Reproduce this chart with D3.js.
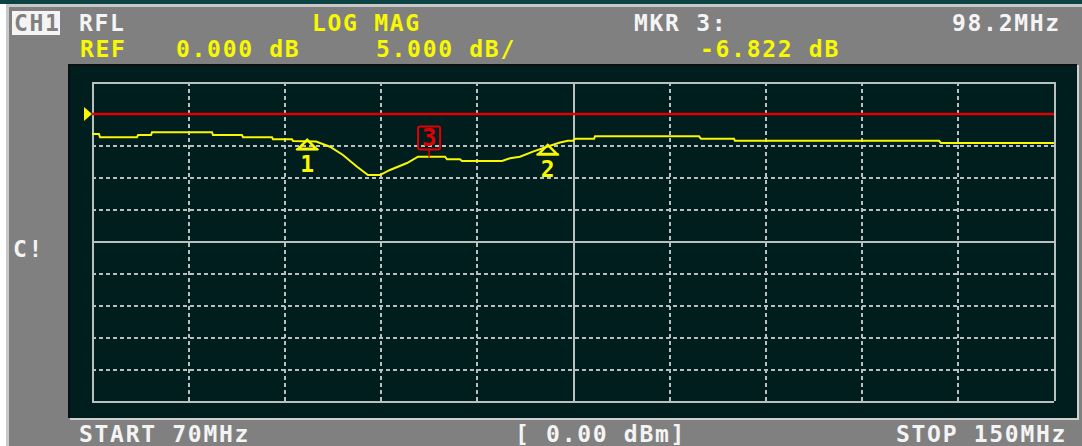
<!DOCTYPE html>
<html>
<head>
<meta charset="utf-8">
<script src="https://cdn.jsdelivr.net/npm/d3@7"></script>
<style>
  html, body { margin: 0; padding: 0; background: #ffffff; }
  svg { display: block; }
  text { font-family: "DejaVu Sans Mono", "Liberation Mono", monospace; font-weight: bold; }
</style>
</head>
<body>
<svg id="chart" width="1082" height="446"></svg>
<script>
// ---- data ----
const startMHz = 70, stopMHz = 150;
const refDb = 0, dbPerDiv = 5;
const xGrid = [70, 78, 86, 94, 102, 110, 118, 126, 134, 142, 150];
const yGrid = [5, 0, -5, -10, -15, -20, -25, -30, -35, -40, -45];
const traceFreq = [70.00, 70.58, 70.67, 73.74, 73.83, 74.91, 74.99, 79.98, 80.06, 82.47, 82.56, 84.97, 85.05, 86.63, 86.72, 88.63, 89.79, 90.87, 92.04, 92.95, 93.95, 94.78, 96.20, 97.11, 99.36, 99.52, 100.60, 100.77, 104.10, 104.76, 105.59, 106.67, 107.84, 108.92, 109.58, 110.00, 110.17, 111.75, 111.83, 120.48, 120.64, 123.39, 123.47, 140.44, 140.60, 150.00];
const traceDb = [-3.15, -3.15, -3.67, -3.67, -3.31, -3.31, -2.88, -2.88, -3.31, -3.31, -3.67, -3.67, -3.98, -3.98, -4.25, -4.33, -5.14, -6.44, -8.28, -9.58, -9.58, -8.79, -7.70, -6.71, -6.71, -7.12, -7.12, -7.38, -7.38, -6.96, -6.71, -5.92, -5.14, -4.48, -4.22, -4.22, -3.90, -3.90, -3.51, -3.51, -3.90, -3.90, -4.22, -4.22, -4.56, -4.56];
const markerIds = ["1", "2", "3"];
const markerFreq = [87.9, 107.9, 98.2];
const markerDb = [-4.3, -5.1, -6.822];
const activeMarker = "3";

const header1 = [
  {t: "RFL", x: 79, c: "#f4f4f4"},
  {t: "LOG MAG", x: 312, c: "#f8f800"},
  {t: "MKR 3:", x: 634, c: "#f4f4f4"},
  {t: "98.2MHz", x: 952, c: "#f4f4f4"}
];
const header2 = [
  {t: "REF", x: 80, c: "#f8f800"},
  {t: "0.000 dB", x: 176, c: "#f8f800"},
  {t: "5.000 dB/", x: 376, c: "#f8f800"},
  {t: "-6.822 dB", x: 700, c: "#f8f800"}
];
const footer = [
  {t: "START 70MHz", x: 79},
  {t: "[ 0.00 dBm]", x: 515},
  {t: "STOP 150MHz", x: 896}
];

// ---- drawing ----
const svg = d3.select("#chart");
const G = {l: 92, r: 1054, t: 82, b: 401};
const x = d3.scaleLinear().domain([startMHz, stopMHz]).range([G.l, G.r]);
const y = d3.scaleLinear().domain([yGrid[0], yGrid[yGrid.length - 1]]).range([G.t, G.b]);

const gridCol = "#b8c0c0";
const yellow = "#f8f800";
const red = "#e00000";
const fontSize = 23, ls = 1.7;

// frame
svg.append("rect").attr("x", 0).attr("y", 0).attr("width", 1082).attr("height", 446).attr("fill", "#ffffff");
svg.append("rect").attr("x", 6).attr("y", 0).attr("width", 1076).attr("height", 446).attr("fill", "#c8c8c8");
svg.append("rect").attr("x", 9).attr("y", 7).attr("width", 1073).attr("height", 439).attr("fill", "#808080");
svg.append("rect").attr("x", 0).attr("y", 0).attr("width", 1082).attr("height", 4).attr("fill", "#0c4444");

// screen
svg.append("rect").attr("x", 70).attr("y", 65).attr("width", 1009).attr("height", 355).attr("fill", "#d0d0d0");
svg.append("rect").attr("x", 68).attr("y", 64).attr("width", 1009).attr("height", 354).attr("fill", "#0a1010");
svg.append("rect").attr("x", 70).attr("y", 66).attr("width", 1007).attr("height", 352).attr("fill", "#001e1e");

// grid via axes
const gridG = svg.append("g").attr("shape-rendering", "crispEdges");
const xAxis = d3.axisBottom(x).tickValues(xGrid).tickSize(-(G.b - G.t)).tickFormat("");
const gx = gridG.append("g").attr("transform", `translate(0,${G.b})`).call(xAxis);
gx.select(".domain").remove();
gx.selectAll(".tick line")
  .attr("stroke", gridCol).attr("stroke-width", 2)
  .attr("stroke-dasharray", (d, i) => (i === 0 || i === xGrid.length - 1 || i === 5) ? null : "4,3");

const yAxis = d3.axisLeft(y).tickValues(yGrid).tickSize(-(G.r - G.l)).tickFormat("");
const gy = gridG.append("g").attr("transform", `translate(${G.l},0)`).call(yAxis);
gy.select(".domain").remove();
gy.selectAll(".tick line")
  .attr("stroke", gridCol).attr("stroke-width", 2)
  .attr("stroke-dasharray", (d, i) => (i === 0 || i === yGrid.length - 1 || i === 5) ? null : "4,3");

// reference line
svg.append("line")
  .attr("x1", G.l).attr("x2", G.r).attr("y1", y(refDb)).attr("y2", y(refDb))
  .attr("stroke", red).attr("stroke-width", 2.5);
// reference pointer
const ry = y(refDb);
svg.append("path")
  .attr("d", `M84,${ry - 7} L92,${ry} L84,${ry + 7} Z`)
  .attr("fill", yellow);

// trace
const pts = traceFreq.map((f, i) => [x(f), y(traceDb[i])]);
svg.append("path")
  .attr("d", d3.line()(pts))
  .attr("fill", "none").attr("stroke", yellow).attr("stroke-width", 2);

// markers
markerIds.forEach((id, i) => {
  const mx = x(markerFreq[i]), my = y(markerDb[i]);
  if (id === activeMarker) {
    svg.append("line").attr("x1", mx - 2).attr("x2", mx - 2).attr("y1", my - 9).attr("y2", my)
      .attr("stroke", red).attr("stroke-width", 1.5);
    svg.append("rect").attr("x", mx - 13).attr("y", my - 31).attr("width", 22).attr("height", 23)
      .attr("rx", 2).attr("fill", "none").attr("stroke", red).attr("stroke-width", 2);
    svg.append("text").attr("x", mx - 2).attr("y", my - 11).attr("text-anchor", "middle")
      .attr("font-size", 24).attr("fill", red).text(id);
  } else {
    const ay = my - 1.5;
    svg.append("path")
      .attr("d", `M${mx},${ay} L${mx + 9},${ay + 9} L${mx - 9},${ay + 9} Z`)
      .attr("fill", "none").attr("stroke", yellow).attr("stroke-width", 2.5).attr("stroke-linejoin", "miter");
    svg.append("line").attr("x1", mx - 11).attr("x2", mx + 11).attr("y1", ay + 9.5).attr("y2", ay + 9.5)
      .attr("stroke", yellow).attr("stroke-width", 2.5);
    svg.append("text").attr("x", mx).attr("y", ay + 32).attr("text-anchor", "middle")
      .attr("font-size", 23).attr("fill", yellow).text(id);
  }
});

// header
svg.append("rect").attr("x", 12).attr("y", 11).attr("width", 48).attr("height", 24).attr("fill", "#f4f4f4");
svg.append("text").attr("x", 14).attr("y", 31).attr("font-size", fontSize).attr("letter-spacing", ls)
  .attr("fill", "#808080").text("CH1");
header1.forEach(h => svg.append("text").attr("x", h.x).attr("y", 31).attr("font-size", fontSize)
  .attr("letter-spacing", ls).attr("fill", h.c).text(h.t));
header2.forEach(h => svg.append("text").attr("x", h.x).attr("y", 57).attr("font-size", fontSize)
  .attr("letter-spacing", ls).attr("fill", h.c).text(h.t));
svg.append("text").attr("x", 13).attr("y", 257).attr("font-size", fontSize).attr("letter-spacing", ls)
  .attr("fill", "#f4f4f4").text("C!");
footer.forEach(h => svg.append("text").attr("x", h.x).attr("y", 442).attr("font-size", fontSize)
  .attr("letter-spacing", ls).attr("fill", "#f4f4f4").text(h.t));
</script>
</body>
</html>
